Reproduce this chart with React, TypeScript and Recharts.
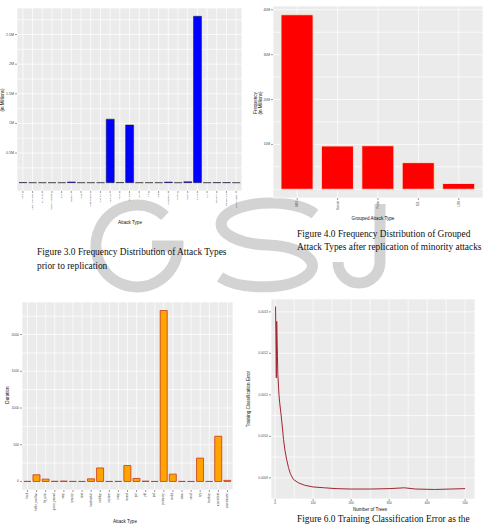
import React from 'react';
import { BarChart, Bar, XAxis, YAxis, CartesianGrid, LineChart, Line } from 'recharts';

const W = 485;
const H = 524;
const SANS = '"Liberation Sans", Arial, sans-serif';
const SERIF = '"Liberation Serif", "Times New Roman", serif';

// ---- Figure 3.0 : attack types, frequency (millions)
const attackTypes = ['back', 'buffer_overflow', 'ftp_write', 'guess_passwd', 'imap', 'ipsweep', 'land', 'loadmodule', 'multihop', 'neptune', 'nmap', 'normal', 'perl', 'phf', 'pod', 'portsweep', 'rootkit', 'satan', 'smurf', 'spy', 'teardrop', 'warezclient', 'warezmaster'];
const attackFreqMillions = [0.0022, 0.00003, 0.00001, 0.00005, 0.00001, 0.0125, 0.00002, 0.00001, 0.00001, 1.072, 0.0023, 0.973, 0.000003, 0.000004, 0.00026, 0.0104, 0.00001, 0.0159, 2.808, 0.000002, 0.00098, 0.00102, 0.00002];
const freqTicks = [0, 0.25, 0.5, 0.75, 1, 1.25, 1.5, 1.75, 2, 2.25, 2.5, 2.75];
const freqTickLabels = ['', '', '0.5M', '', '1M', '', '1.5M', '', '2M', '', '2.5M', ''];

// ---- Figure 4.0 : grouped attack types (millions)
const groupedTypes = ['DOS', 'Normal', 'Probe', 'R2L', 'U2R'];
const groupedFreqMillions = [38.9, 9.63, 9.7, 5.93, 1.28];
const groupedTicks = [0, 5, 10, 15, 20, 25, 30, 35, 40];
const groupedTickLabels = ['', '', '10M', '', '20M', '', '30M', '', '40M'];

// ---- Duration by attack type
const durationValues = [1, 91, 32, 3, 6, 1, 0.5, 36, 184, 0.5, 1, 217, 41, 5, 0.5, 2327, 100, 1, 0.5, 318, 0.5, 615, 15];
const durationTicks = [0, 250, 500, 750, 1000, 1250, 1500, 1750, 2000, 2250];
const durationTickLabels = ['0', '', '500', '', '1000', '', '1500', '', '2000', ''];

// ---- Figure 6.0 : training error vs number of trees
const treeCounts = [1, 3, 4, 6, 7, 10, 12, 15, 18, 22, 26, 30, 35, 40, 48, 61, 78, 100, 130, 160, 200, 250, 300, 340, 370, 420, 460, 500];
const trainError = [0.001313, 0.001141, 0.001277, 0.001193, 0.00115, 0.0011, 0.00108, 0.001056, 0.00103, 0.000992, 0.000965, 0.000945, 0.000925, 0.00091, 0.000896, 0.000888, 0.000882, 0.000878, 0.000876, 0.000874, 0.000873, 0.000873, 0.000874, 0.000876, 0.000873, 0.000872, 0.000873, 0.000874];
const treeTicks = [0, 50, 100, 150, 200, 250, 300, 350, 400, 450, 500];
const treeTickLabels = ['0', '', '100', '', '200', '', '300', '', '400', '', '500'];
const errTicks = [0.0009, 0.00095, 0.001, 0.00105, 0.0011, 0.00115, 0.0012, 0.00125, 0.0013];
const errTickLabels = ['0.0009', '', '0.0010', '', '0.0011', '', '0.0012', '', '0.0013'];

const attackData = attackTypes.map((t, i) => ({ type: t, freq: attackFreqMillions[i] }));
const groupedData = groupedTypes.map((t, i) => ({ type: t, freq: groupedFreqMillions[i] }));
const durationData = attackTypes.map((t, i) => ({ type: t, duration: durationValues[i] }));
const treeData = treeCounts.map((n, i) => ({ trees: n, err: trainError[i] }));

const TICK_COLOR = '#4d4d4d';
const PANEL = '#ebebeb';

function labelFor(ticks: number[], labels: string[], v: number) {
  for (let i = 0; i < ticks.length; i++) {
    if (Math.abs(ticks[i] - v) < 1e-12) return labels[i];
  }
  return '';
}

function makeYTick(ticks: number[], labels: string[], fs: number) {
  return (props: any) => {
    const { x, y, payload } = props;
    const lab = labelFor(ticks, labels, payload.value);
    if (!lab) return <g />;
    return (
      <g>
        <line x1={x + 1} x2={x + 3} y1={y} y2={y} stroke="#333" strokeWidth={0.5} />
        <text x={x} y={y} textAnchor="end" dominantBaseline="central" fontSize={fs} fill={TICK_COLOR} fontFamily={SANS}>{lab}</text>
      </g>
    );
  };
}

function makeXNumTick(ticks: number[], labels: string[], fs: number) {
  return (props: any) => {
    const { x, y, payload } = props;
    const lab = labelFor(ticks, labels, payload.value);
    if (!lab) return <g />;
    return (
      <g>
        <line x1={x} x2={x} y1={y - 3} y2={y - 1} stroke="#333" strokeWidth={0.5} />
        <text x={x} y={y} textAnchor="middle" dominantBaseline="hanging" fontSize={fs} fill={TICK_COLOR} fontFamily={SANS}>{lab}</text>
      </g>
    );
  };
}

function makeCatTick(fs: number) {
  return (props: any) => {
    const { x, y, payload } = props;
    return (
      <g transform={`translate(${x},${y})`}>
        <line x1={0} x2={0} y1={-3} y2={-1} stroke="#333" strokeWidth={0.5} />
        <text transform="rotate(-90)" textAnchor="end" dominantBaseline="central" fontSize={fs} fill={TICK_COLOR} fontFamily={SANS}>{payload.value}</text>
      </g>
    );
  };
}

const layer: React.CSSProperties = { position: 'absolute', left: 0, top: 0 };

function Chart1() {
  // panel: x 17..242, y 8..191
  return (
    <div style={layer}>
      <BarChart width={W} height={H} data={attackData} margin={{ top: 8, right: 243, bottom: 293, left: 0 }} barCategoryGap="10%">
        <CartesianGrid fill={PANEL} fillOpacity={1} stroke="#ffffff" strokeWidth={0.7} />
        <XAxis dataKey="type" type="category" height={40} interval={0} axisLine={false} tickLine={false} tickSize={2} tickMargin={1} padding={{ left: 1, right: 1 }} tick={makeCatTick(2.4)} />
        <YAxis type="number" width={17} domain={[-0.1404, 2.948]} allowDataOverflow ticks={freqTicks} interval={0} axisLine={false} tickLine={false} tickSize={2} tickMargin={1} tick={makeYTick(freqTicks, freqTickLabels, 3.6)} />
        <Bar dataKey="freq" fill="#0000ff" stroke="#1a1a1a" strokeWidth={0.5} isAnimationActive={false} />
      </BarChart>
    </div>
  );
}

function Chart2() {
  // panel: x 273..483, y 6..198
  return (
    <div style={layer}>
      <BarChart width={W} height={H} data={groupedData} margin={{ top: 6, right: 2, bottom: 296, left: 0 }} barCategoryGap="10%">
        <CartesianGrid fill={PANEL} fillOpacity={1} stroke="#ffffff" strokeWidth={0.7} />
        <XAxis dataKey="type" type="category" height={30} interval={0} axisLine={false} tickLine={false} tickSize={2} tickMargin={1} padding={{ left: 4, right: 4 }} tick={makeCatTick(2.8)} />
        <YAxis type="number" width={273} domain={[-1.95, 40.85]} allowDataOverflow ticks={groupedTicks} interval={0} axisLine={false} tickLine={false} tickSize={2} tickMargin={1} tick={makeYTick(groupedTicks, groupedTickLabels, 3.4)} />
        <Bar dataKey="freq" fill="#ff0000" stroke="#fbeed2" strokeWidth={0.8} isAnimationActive={false} />
      </BarChart>
    </div>
  );
}

function Chart3() {
  // panel: x 22..233, y 302..490
  return (
    <div style={layer}>
      <BarChart width={W} height={H} data={durationData} margin={{ top: 302, right: 252, bottom: 4, left: 0 }} barCategoryGap="10%">
        <CartesianGrid fill={PANEL} fillOpacity={1} stroke="#ffffff" strokeWidth={0.7} />
        <XAxis dataKey="type" type="category" height={30} interval={0} axisLine={false} tickLine={false} tickSize={2} tickMargin={1} padding={{ left: 1, right: 1 }} tick={makeCatTick(2.6)} />
        <YAxis type="number" width={22} domain={[-116, 2443]} allowDataOverflow ticks={durationTicks} interval={0} axisLine={false} tickLine={false} tickSize={2} tickMargin={1} tick={makeYTick(durationTicks, durationTickLabels, 3.4)} />
        <Bar dataKey="duration" fill="#ffa500" stroke="#c8361a" strokeWidth={0.8} isAnimationActive={false} />
      </BarChart>
    </div>
  );
}

function Chart4() {
  // panel: x 271..475, y 299..499
  return (
    <div style={layer}>
      <LineChart width={W} height={H} data={treeData} margin={{ top: 299, right: 10, bottom: 5, left: 0 }}>
        <CartesianGrid fill={PANEL} fillOpacity={1} stroke="#ffffff" strokeWidth={0.7} />
        <XAxis dataKey="trees" type="number" domain={[-11, 526]} allowDataOverflow ticks={treeTicks} interval={0} height={20} axisLine={false} tickLine={false} tickSize={2} tickMargin={1} tick={makeXNumTick(treeTicks, treeTickLabels, 3.2)} />
        <YAxis type="number" width={271} domain={[0.000849, 0.001331]} allowDataOverflow ticks={errTicks} interval={0} axisLine={false} tickLine={false} tickSize={2} tickMargin={1} tick={makeYTick(errTicks, errTickLabels, 3.2)} />
        <Line type="linear" dataKey="err" stroke="#a0262e" strokeWidth={1} dot={false} isAnimationActive={false} />
      </LineChart>
    </div>
  );
}

// faint journal logo drawn behind the figures (shapes only)
function Watermark() {
  const st = { fill: 'none', stroke: '#d3d3d3', strokeWidth: 11, strokeLinecap: 'butt' as const };
  return (
    <svg width={W} height={H} style={layer}>
      <path d="M165,216 A41 41 0 1 0 178,246 L152,246" {...st} />
      <path d="M315,214 A50 21 0 1 0 268,245 A50 21 0 1 1 220,277" {...st} />
      <path d="M380,204 L380,262 A21 21 0 0 1 338,262" {...st} />
    </svg>
  );
}

function Overlay() {
  const ttl = { fontFamily: SANS, fill: '#111', fontSize: 4.6 } as const;
  const cap = { fontFamily: SERIF, fill: '#111', fontSize: 9.4 } as const;
  return (
    <svg width={W} height={H} style={layer}>
      {/* axis titles */}
      <text x={130} y={224} textAnchor="middle" {...ttl}>Attack Type</text>
      <text transform="translate(4,100) rotate(-90)" textAnchor="middle" {...ttl}>(in Millions)</text>

      <text x={373} y={220} textAnchor="middle" {...ttl}>Grouped Attack Type</text>
      <text transform="translate(257,103) rotate(-90)" textAnchor="middle" {...ttl}>Frequency</text>
      <text transform="translate(262,103) rotate(-90)" textAnchor="middle" {...ttl}>(in Millions)</text>

      <text x={125} y={523} textAnchor="middle" {...ttl}>Attack Type</text>
      <text transform="translate(9,395) rotate(-90)" textAnchor="middle" {...ttl}>Duration</text>

      <text x={370} y={511} textAnchor="middle" {...ttl}>Number of Trees</text>
      <text transform="translate(250,399) rotate(-90)" textAnchor="middle" {...ttl}>Training Classification Error</text>

      {/* captions */}
      <text x={37} y={255} {...cap}>Figure 3.0 Frequency Distribution of Attack Types</text>
      <text x={37} y={269} {...cap}>prior to replication</text>
      <text x={297} y={237} {...cap}>Figure 4.0 Frequency Distribution of Grouped</text>
      <text x={297} y={250} {...cap}>Attack Types after replication of minority attacks</text>
      <text x={297} y={522} {...cap}>Figure 6.0 Training Classification Error as the</text>
    </svg>
  );
}

export default function App() {
  return (
    <div style={{ position: 'absolute', left: 0, top: 0, width: W, height: H, overflow: 'hidden', background: '#ffffff' }}>
      <Watermark />
      <Chart1 />
      <Chart2 />
      <Chart3 />
      <Chart4 />
      <Overlay />
    </div>
  );
}
